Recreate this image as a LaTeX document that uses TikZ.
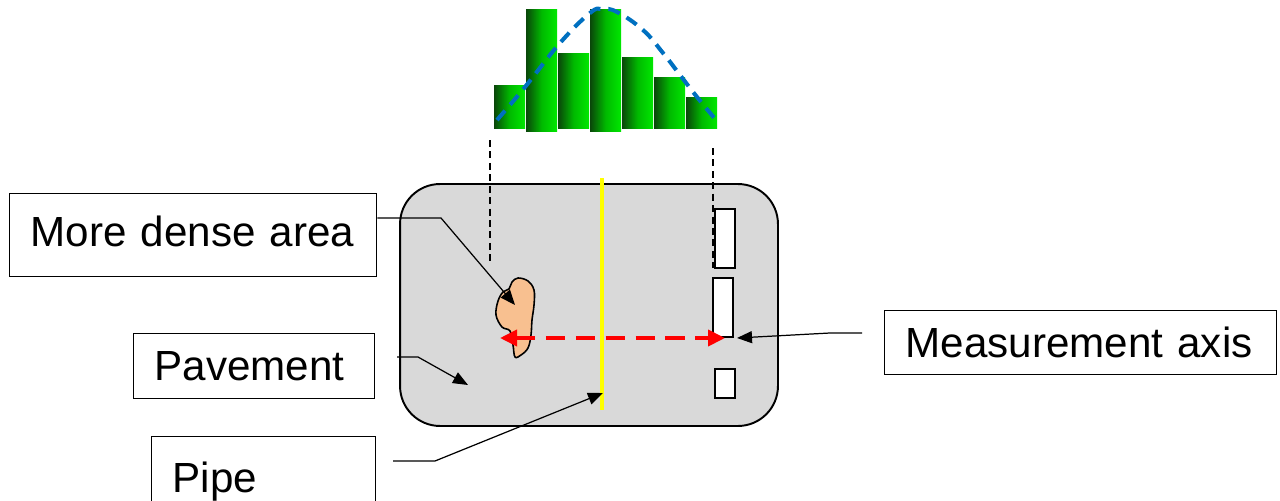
\documentclass[tikz,border=0pt]{standalone}
\usepackage{fontspec}
\setmainfont{Liberation Sans}
\usetikzlibrary{arrows.meta, positioning, calc}
\definecolor{pavegray}{RGB}{217, 217, 217}
\definecolor{peach}{RGB}{248, 192, 144}
\definecolor{curveblue}{RGB}{0, 112, 192}
\definecolor{bargreen}{RGB}{0, 232, 0}
\definecolor{bardark}{RGB}{10, 70, 10}
\definecolor{pipeyellow}{RGB}{255, 255, 0}

\begin{document}
\begin{tikzpicture}[
    x=0.02cm, y=-0.02cm,
    labelbox/.style={rectangle, draw, line width=0.8pt, anchor=north west, inner xsep=0.42cm, text width=#1, align=left, font=\fontsize{24pt}{28pt}\selectfont},
    leader/.style={line width=0.7pt, -{Triangle[length=0.3cm, width=0.24cm]}},
    guide/.style={line width=0.7pt, dash pattern=on 4pt off 2.5pt},
    axisarrow/.style={red, line width=2.2pt, dash pattern=on 11pt off 6pt, {Triangle[length=0.34cm, width=0.32cm]}-{Triangle[length=0.34cm, width=0.32cm]}}
]
\useasboundingbox (0, 0) rectangle (1280, 500);

% Histogram
\foreach \xl/\yt/\yb in {494/86/128, 526/10/131, 558/54/128, 590/10/131, 622/58/128, 654/78/128, 686/98/128}
    \shade[left color=bardark, right color=bargreen, middle color=bargreen!80!black] (\xl, \yt) rectangle ++(31, \yb-\yt);
\draw[curveblue, line width=2.3pt, dash pattern=on 7pt off 4.5pt] plot[smooth, tension=0.7] coordinates {(497, 120) (525, 87) (560, 43) (590, 13) (602, 9) (617, 12) (643, 30) (663, 53) (680, 75) (697, 97) (716, 120)};

% Pavement
\node[draw, line width=1.1pt, fill=pavegray, rounded corners=0.8cm, minimum width=7.56cm, minimum height=4.84cm] (pave) at (589, 305) {};

% Measurement guides
\draw[guide] (490, 140) -- (490, 265);
\draw[guide] (713, 148) -- (713, 268);

% Sensors
\foreach \xl/\yt/\xr/\yb in {715/209/735/268, 713/278/733/337, 715/369/735/398}
    \draw[fill=white, line width=0.9pt] (\xl, \yt) rectangle (\xr, \yb);

% Dense area
\draw[fill=peach, line width=0.9pt] plot[smooth cycle, tension=0.6] coordinates {(518, 278) (528, 281) (534, 290) (534, 305) (532, 320) (531, 335) (528, 348) (521, 355) (515, 357) (513, 345) (510, 331) (502, 327) (496, 315) (498, 301) (503, 292) (509, 289) (512, 282)};

% Measurement axis arrow
\coordinate (axisleft) at (500, 338);
\coordinate (axisright) at (725, 338);
\draw[axisarrow] (axisleft) -- (axisright);

% Pipe
\coordinate (pipetop) at (602, 178);
\coordinate (pipebot) at (602, 410);
\draw[pipeyellow, line width=2.4pt] (pipetop) -- (pipebot);

% Labels
\node[labelbox=6.5cm, minimum height=1.66cm] (dense) at (9, 193) {\raisebox{0.14cm}{More dense area}};
\node[labelbox=3.98cm, minimum height=1.3cm] (pavebox) at (133, 333) {Pavement};
\node[labelbox=3.64cm, minimum height=1.8cm] (pipebox) at (151, 436) {Pipe};
\node[labelbox=7.0cm, minimum height=1.28cm] (axisbox) at (884, 310) {Measurement axis};

% Leaders
\coordinate (denseknee) at (441, 218);
\coordinate (densetip) at (515, 305);
\draw[leader] (dense.east |- denseknee) -- (denseknee) -- (densetip);

\coordinate (pavestart) at (397, 357);
\coordinate (paveknee) at (418, 357);
\coordinate (pavetip) at (468, 385);
\draw[leader] (pavestart) -- (paveknee) -- (pavetip);

\coordinate (pipestart) at (393, 461);
\coordinate (pipeknee) at (435, 461);
\coordinate (pipetip) at (603, 393);
\draw[leader] (pipestart) -- (pipeknee) -- (pipetip);

\coordinate (axisstart) at (862, 333);
\coordinate (axisknee) at (830, 333);
\coordinate (axistip) at (737, 338);
\draw[leader] (axisstart) -- (axisknee) -- (axistip);

\end{tikzpicture}
\end{document}
